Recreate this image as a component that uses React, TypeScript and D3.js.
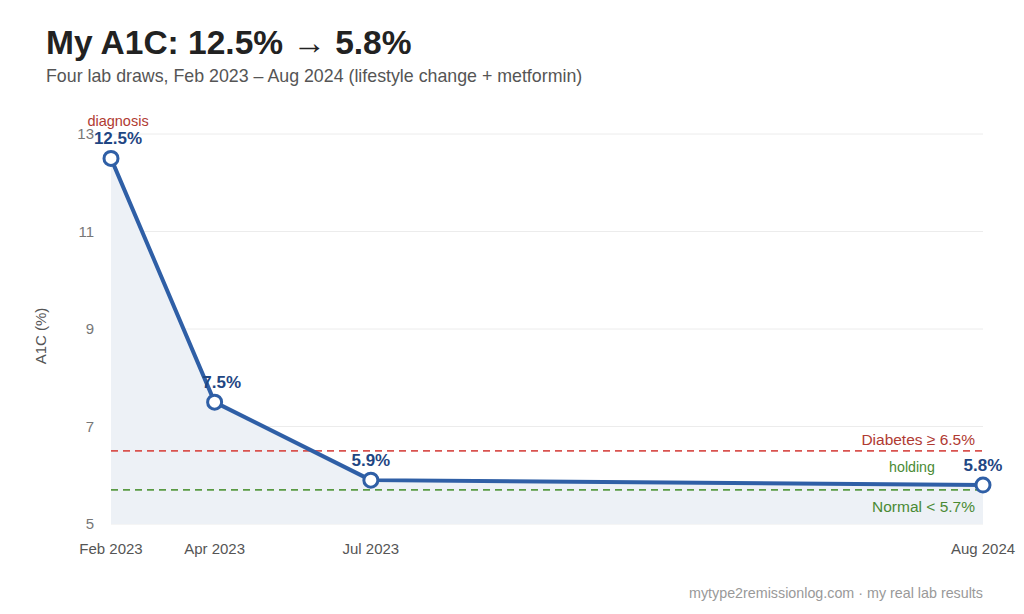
import * as d3 from "d3";

// lab draws
const DRAW_DATES = ["2023-02-01", "2023-04-07", "2023-07-14", "2024-08-01"];
const DRAW_LABELS = ["Feb 2023", "Apr 2023", "Jul 2023", "Aug 2024"];
const A1C_VALUES = [12.5, 7.5, 5.9, 5.8];
const Y_TICKS = [5, 7, 9, 11, 13];

const DIABETES_CUTOFF = 6.5;
const NORMAL_CUTOFF = 5.7;

const WIDTH = 1024;
const HEIGHT = 614;
const margin = { top: 134, right: 41, bottom: 90, left: 111 };

const BLUE = "#2f5fa6";
const BLUE_DARK = "#1f4683";
const RED_TEXT = "#b03a32";
const GREEN = "#4a8a34";
const FONT = "'Liberation Sans', Arial, Helvetica, sans-serif";

type Draw = { date: Date; label: string; value: number };

export default function App() {
  const parse = d3.timeParse("%Y-%m-%d");
  const data: Draw[] = DRAW_DATES.map((d, i) => ({
    date: parse(d) as Date,
    label: DRAW_LABELS[i],
    value: A1C_VALUES[i],
  }));

  const innerW = WIDTH - margin.left - margin.right;
  const innerH = HEIGHT - margin.top - margin.bottom;

  const x = d3
    .scaleTime()
    .domain(d3.extent(data, (d) => d.date) as [Date, Date])
    .range([0, innerW]);
  const y = d3.scaleLinear().domain([5, 13]).range([innerH, 0]);

  const line = d3
    .line<Draw>()
    .x((d) => x(d.date))
    .y((d) => y(d.value));
  const area = d3
    .area<Draw>()
    .x((d) => x(d.date))
    .y0(innerH)
    .y1((d) => y(d.value));

  const last = data[data.length - 1];
  // steep drops get their labels nudged right, off the line
  const labelShift = (i: number) =>
    i < data.length - 1 && data[i + 1].value < data[i].value - 1 ? 7 : 0;

  return (
    <svg width={WIDTH} height={HEIGHT} style={{ display: "block", position: "absolute", left: 0, top: 0, background: "#fff", fontFamily: FONT }}>
      <text x={46} y={54} fontSize={33.5} fontWeight={700} fill="#222">
        My A1C: 12.5% → 5.8%
      </text>
      <text x={46} y={82} fontSize={17.8} fill="#555">
        Four lab draws, Feb 2023 – Aug 2024 (lifestyle change + metformin)
      </text>

      <text transform="translate(46,336) rotate(-90)" textAnchor="middle" fontSize={15} fill="#555">
        A1C (%)
      </text>

      <g transform={`translate(${margin.left},${margin.top})`}>
        {Y_TICKS.map((t) => (
          <g key={t}>
            <line x1={0} x2={innerW} y1={y(t)} y2={y(t)} stroke="#ececec" strokeWidth={1} />
            <text x={-17} y={y(t)} dy="0.35em" textAnchor="end" fontSize={15} fill="#777">
              {t}
            </text>
          </g>
        ))}

        <path d={area(data) ?? ""} fill="#edf1f6" />

        {data.map((d) => (
          <text key={d.label} x={x(d.date)} y={innerH + 30} textAnchor="middle" fontSize={15} fill="#555">
            {d.label}
          </text>
        ))}

        {/* threshold lines */}
        <line x1={0} x2={innerW} y1={y(DIABETES_CUTOFF)} y2={y(DIABETES_CUTOFF)} stroke="#d9534f" strokeWidth={1.6} strokeDasharray="7,5" />
        <text x={innerW - 8} y={y(DIABETES_CUTOFF) - 6} textAnchor="end" fontSize={15.5} fill={RED_TEXT}>
          Diabetes ≥ 6.5%
        </text>
        <line x1={0} x2={innerW} y1={y(NORMAL_CUTOFF)} y2={y(NORMAL_CUTOFF)} stroke="#5a9a44" strokeWidth={1.6} strokeDasharray="7,5" />
        <text x={innerW - 8} y={y(NORMAL_CUTOFF) + 22} textAnchor="end" fontSize={15.5} fill={GREEN}>
          Normal &lt; 5.7%
        </text>

        <path d={line(data) ?? ""} fill="none" stroke={BLUE} strokeWidth={4} strokeLinejoin="round" />

        {data.map((d, i) => (
          <g key={d.label}>
            <circle cx={x(d.date)} cy={y(d.value)} r={7} fill="#fff" stroke={BLUE} strokeWidth={3} />
            <text
              x={x(d.date) + labelShift(i)}
              y={y(d.value) - 14}
              textAnchor="middle"
              fontSize={17}
              fontWeight={700}
              fill={BLUE_DARK}
            >
              {d.value.toFixed(1)}%
            </text>
          </g>
        ))}

        <text x={x(data[0].date) + labelShift(0)} y={y(data[0].value) - 32} textAnchor="middle" fontSize={14.5} fill={RED_TEXT}>
          diagnosis
        </text>
        <text x={x(last.date) - 71} y={y(last.value) - 13} textAnchor="middle" fontSize={14.2} fill={GREEN}>
          holding
        </text>
      </g>

      <text x={983} y={598} textAnchor="end" fontSize={14.3} fill="#999">
        mytype2remissionlog.com · my real lab results
      </text>
    </svg>
  );
}
